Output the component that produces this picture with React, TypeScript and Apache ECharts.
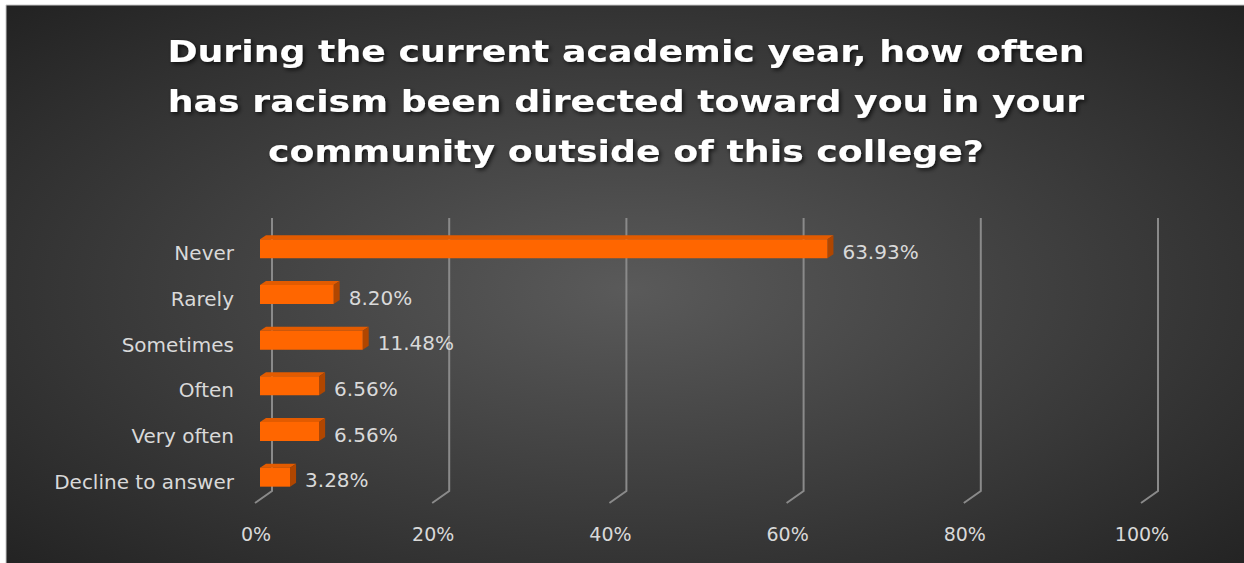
import React, { useEffect, useRef } from "react";
import * as echarts from "echarts";

const titleText =
  "During the current academic year, how often\nhas racism been directed toward you in your\ncommunity outside of this college?";
const categories = ["Never", "Rarely", "Sometimes", "Often", "Very often", "Decline to answer"];
const percentages = [63.93, 8.2, 11.48, 6.56, 6.56, 3.28];
const tickValues = [0, 20, 40, 60, 80, 100];

export default function App() {
  const ref = useRef<HTMLDivElement>(null);
  useEffect(() => {
    document.body.style.margin = "0";
    const chart = echarts.init(ref.current!, undefined, { renderer: "svg" });
    const labelColor = "#d9d9d9";
    const font = "DejaVu Sans";
    chart.setOption({
      animation: false,
      backgroundColor: "#ffffff",
      graphic: [
        {
          type: "rect",
          z: -10,
          silent: true,
          shape: { x: 6, y: 5, width: 1245, height: 570 },
          style: {
            fill: new echarts.graphic.RadialGradient(0.5, 0.5, 0.72, [
              { offset: 0, color: "#5a5a5a" },
              { offset: 1, color: "#212121" },
            ]),
            stroke: "#c8c8c8",
            lineWidth: 1,
          },
        },
        {
          type: "text",
          z: 10,
          x: 626,
          y: 27,
          scaleX: 1.21,
          scaleY: 1,
          style: {
            text: titleText,
            fill: "#ffffff",
            font: `bold 30px "${font}"`,
            align: "center",
            verticalAlign: "top",
            lineHeight: 50,
            textShadowColor: "rgba(0,0,0,0.7)",
            textShadowBlur: 4,
            textShadowOffsetX: 2,
            textShadowOffsetY: 2,
          },
          originX: 0,
          originY: 0,
        },
      ],
      grid: { left: 261, width: 886, top: 226, height: 274 },
      xAxis: {
        type: "value",
        min: 0,
        max: 100,
        interval: 20,
        axisLine: { show: false },
        axisTick: { show: false },
        splitLine: { show: false },
        axisLabel: {
          formatter: "{value}%",
          color: labelColor,
          fontFamily: font,
          fontSize: 19,
          margin: 24,
          padding: [0, 10, 0, 0],
        },
      },
      yAxis: {
        type: "category",
        data: categories,
        inverse: true,
        axisLine: { show: false },
        axisTick: { show: false },
        splitLine: { show: false },
        axisLabel: {
          margin: 27,
          formatter: (v: string) => `{c|${v}}`,
          rich: {
            c: {
              color: labelColor,
              fontFamily: font,
              fontSize: 20,
              padding: [9, 0, 0, 0],
            },
          },
        },
      },
      series: [
        {
          type: "custom",
          name: "grid",
          silent: true,
          z: 1,
          data: tickValues.map((v) => [v, 0]),
          renderItem: (params: any, api: any) => {
            const cs = params.coordSys;
            const px = api.coord([api.value(0), 0])[0];
            const top = cs.y - 8;
            const bend = cs.y + 265;
            const end = cs.y + 277;
            return {
              type: "polyline",
              shape: {
                points: [
                  [px + 11, top],
                  [px + 11, bend],
                  [px - 6, end],
                ],
              },
              style: { stroke: "#8a8a8a", lineWidth: 2, fill: "none" },
            };
          },
        },
        {
          type: "custom",
          name: "bars",
          z: 5,
          data: percentages.map((v, i) => [v, i]),
          renderItem: (params: any, api: any) => {
            const v = api.value(0);
            const idx = api.value(1);
            const [xe, yc] = api.coord([v, idx]);
            const x0 = api.coord([0, idx])[0] - 1;
            const h = 19;
            const y1 = yc - h / 2;
            const y2 = yc + h / 2;
            const dx = 6;
            const dy = 4;
            return {
              type: "group",
              children: [
                {
                  type: "polygon",
                  shape: { points: [[x0, y1], [x0 + dx, y1 - dy], [xe + dx, y1 - dy], [xe, y1]] },
                  style: { fill: "#e35b00" },
                },
                {
                  type: "polygon",
                  shape: { points: [[xe, y1], [xe + dx, y1 - dy], [xe + dx, y2 - dy], [xe, y2]] },
                  style: { fill: "#b04600" },
                },
                {
                  type: "rect",
                  shape: { x: x0, y: y1, width: xe - x0, height: h },
                  style: { fill: "#ff6600" },
                },
                {
                  type: "text",
                  x: xe + 15,
                  y: yc + 3,
                  style: {
                    text: v.toFixed(2) + "%",
                    fill: labelColor,
                    font: `20px "${font}"`,
                    verticalAlign: "middle",
                    align: "left",
                  },
                },
              ],
            };
          },
        },
      ],
    });
    return () => chart.dispose();
  }, []);
  return (
    <div
      ref={ref}
      style={{ position: "absolute", left: 0, top: 0, width: 1244, height: 563 }}
    />
  );
}
